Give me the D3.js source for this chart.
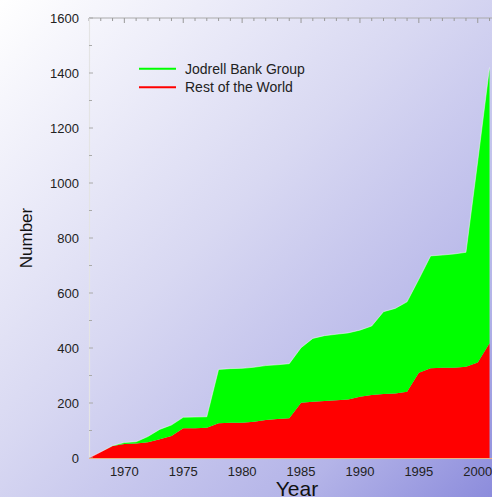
<!DOCTYPE html>
<html><head><meta charset="utf-8">
<script src="https://cdn.jsdelivr.net/npm/d3@7"></script>
<style>html,body{margin:0;padding:0;overflow:hidden;background:#fff}svg{display:block;font-family:"Liberation Sans",Arial,Helvetica,sans-serif}</style>
</head><body>
<script>
const years = [1967,1968,1969,1970,1971,1972,1973,1974,1975,1976,1977,1978,1979,1980,1981,1982,1983,1984,1985,1986,1987,1988,1989,1990,1991,1992,1993,1994,1995,1996,1997,1998,1999,2000,2001];
const restOfWorld = [0,22,44,51,53,57,68,80,108,108,110,126,128,128,132,138,142,145,201,205,207,210,213,223,229,233,235,241,310,326,328,328,332,347,417];
const jodrellBank = [0,0,1,5,6,21,36,40,40,41,40,196,197,198,198,198,197,198,200,230,238,240,242,242,251,299,309,327,340,409,410,414,416,733,1003];
const seriesNames = ["Jodrell Bank Group","Rest of the World"];
const seriesColors = ["#00ff00","#ff0000"];
const yLabelTicks = [0,200,400,600,800,1000,1200,1400,1600];
const xLabelTicks = [1970,1975,1980,1985,1990,1995,2000];

const W = 492, H = 497;
const svg = d3.select("body").append("svg").attr("width", W).attr("height", H);
const defs = svg.append("defs");
const grad = defs.append("linearGradient").attr("id","bg").attr("x1","0").attr("y1","0").attr("x2","1").attr("y2","1");
grad.append("stop").attr("offset","0%").attr("stop-color","#ffffff");
grad.append("stop").attr("offset","45%").attr("stop-color","#d8d8f2");
grad.append("stop").attr("offset","80%").attr("stop-color","#b4b4e8");
grad.append("stop").attr("offset","100%").attr("stop-color","#8c8cdc");
svg.append("rect").attr("width",W).attr("height",H).attr("fill","url(#bg)");

const x = d3.scaleLinear().domain([1967, 2002]).range([89, 89 + 35*11.78]);
const y = d3.scaleLinear().domain([0, 1600]).range([458, 18]);

const table = years.map((yr,i)=>({year:yr, rest:restOfWorld[i], jodrell:jodrellBank[i]}));
const stack = d3.stack().keys(["rest","jodrell"]);
const stacked = stack(table);
const area = d3.area().x(d=>x(d.data.year)).y0(d=>y(d[0])).y1(d=>y(d[1]));
const colorByKey = {rest: seriesColors[1], jodrell: seriesColors[0]};
svg.append("g").selectAll("path").data(stacked).join("path")
  .attr("d", area).attr("fill", d=>colorByKey[d.key]);
svg.append("path").datum(stacked[1])
  .attr("d", d3.line().x(d=>x(d.data.year)).y(d=>y(d[1])))
  .attr("fill","none").attr("stroke","#ffffff").attr("stroke-opacity",0.6).attr("stroke-width",0.8);

const topAxis = svg.append("g");
topAxis.append("line").attr("x1",89).attr("x2",W).attr("y1",18).attr("y2",18).attr("stroke","#aaaaaa");
const yrTicks = d3.range(1967, 2002);
topAxis.selectAll("line.t").data(yrTicks).join("line").attr("class","t")
  .attr("x1",d=>x(d)).attr("x2",d=>x(d)).attr("y1",18).attr("y2",d=>d%5===0?23:21)
  .attr("stroke","#999");

const leftAxis = svg.append("g");
leftAxis.append("line").attr("x1",89.5).attr("x2",89.5).attr("y1",18).attr("y2",458).attr("stroke","#e4e4e4").attr("stroke-width",1.2);
leftAxis.selectAll("line.t").data(d3.range(0,1601,100)).join("line").attr("class","t")
  .attr("x1",89).attr("x2",d=>d%200===0?93:92).attr("y1",d=>y(d)).attr("y2",d=>y(d))
  .attr("stroke","#aaa");
leftAxis.selectAll("text").data(yLabelTicks).join("text")
  .attr("x",79).attr("y",d=>y(d)+4.5).attr("text-anchor","end")
  .attr("font-size",13).attr("fill","#222").text(d=>d);

svg.append("line").attr("x1",89).attr("x2",W).attr("y1",458.5).attr("y2",458.5).attr("stroke","#f0b080").attr("stroke-width",1);
svg.append("g").selectAll("text").data(xLabelTicks).join("text")
  .attr("x",d=>x(d)).attr("y",476).attr("text-anchor","middle")
  .attr("font-size",13).attr("fill","#222").text(d=>d);

svg.append("text").attr("x",297).attr("y",495.5).attr("text-anchor","middle")
  .attr("font-size",21).attr("fill","#111").text("Year");
svg.append("text").attr("transform","translate(32,238) rotate(-90)").attr("text-anchor","middle")
  .attr("font-size",17).attr("fill","#111").text("Number");

const lg = svg.append("g");
seriesNames.forEach((n,i)=>{
  const ly = 68.7 + i*18.6;
  lg.append("line").attr("x1",139).attr("x2",176).attr("y1",ly).attr("y2",ly)
    .attr("stroke",seriesColors[i]).attr("stroke-width",2);
  lg.append("text").attr("x",185).attr("y",ly+5).attr("font-size",14).attr("fill","#222").text(n);
});
</script>
</body></html>
